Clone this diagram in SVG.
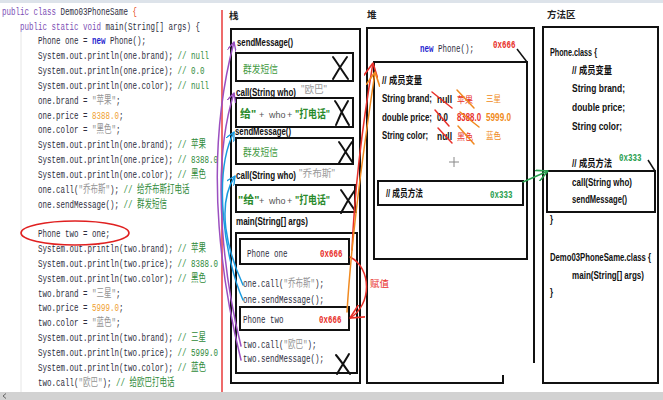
<svg xmlns="http://www.w3.org/2000/svg" width="663" height="400" viewBox="0 0 663 400">
<style>
.mono{font-family:"Liberation Mono","Noto Sans CJK SC",monospace;font-size:11px;fill:#2e2e3e}
.kw{fill:#7d4fb5}
.nw{fill:#1f1fd0;font-weight:bold}
.cm{fill:#2f8a3a}
.st{fill:#949494}
.nu{fill:#f0a030}
.lbl{font-family:"Liberation Sans","Noto Sans CJK SC",sans-serif;font-size:10.5px;font-weight:bold;fill:#111}
.ttl{font-family:"Noto Sans CJK SC",sans-serif;font-size:9.5px;font-weight:bold;fill:#222}
.cjk{font-family:"Liberation Sans","Noto Sans CJK SC",sans-serif}
.box{fill:none;stroke:#111;stroke-width:2}
.xm{fill:none;stroke:#111;stroke-width:2;stroke-linecap:round}
.red{fill:#e8302a}
.grn{fill:#2aa050}
</style>
<defs>
<marker id="ap" viewBox="0 0 10 10" refX="10" refY="5" markerWidth="9" markerHeight="9" markerUnits="userSpaceOnUse" orient="auto"><path d="M0,0 L10,5 L0,10" fill="none" stroke="#9b4fc0" stroke-width="1.5"/></marker>
<marker id="ab" viewBox="0 0 10 10" refX="10" refY="5" markerWidth="9" markerHeight="9" markerUnits="userSpaceOnUse" orient="auto"><path d="M0,0 L10,5 L0,10" fill="none" stroke="#1a9be0" stroke-width="1.5"/></marker>
<marker id="ar" viewBox="0 0 10 10" refX="10" refY="5" markerWidth="14" markerHeight="14" markerUnits="userSpaceOnUse" orient="auto"><path d="M0,0 L10,5 L0,10" fill="none" stroke="#e8302a" stroke-width="1.2"/></marker>
<marker id="ao" viewBox="0 0 10 10" refX="10" refY="5" markerWidth="14" markerHeight="14" markerUnits="userSpaceOnUse" orient="auto"><path d="M0,0 L10,5 L0,10" fill="none" stroke="#f08a20" stroke-width="1.2"/></marker>
<marker id="ag" viewBox="0 0 10 10" refX="10" refY="5" markerWidth="12" markerHeight="12" markerUnits="userSpaceOnUse" orient="auto"><path d="M0,0 L10,5 L0,10" fill="none" stroke="#2aa050" stroke-width="1.3"/></marker>
</defs>
<rect width="663" height="400" fill="#ffffff"/>
<rect x="0" y="0" width="663" height="3" fill="#dde3ea"/>

<!-- code panel -->
<g id="code">
<line x1="21" y1="32" x2="21" y2="392" stroke="#e6e6e6" stroke-width="1"/>
<g transform="scale(0.682,1)">
<text class="mono" x="2.9" y="14.8"><tspan class="kw">public class</tspan> Demo03PhoneSame <tspan fill="#e8502a">{</tspan></text>
<text class="mono" x="29.3" y="29.6"><tspan class="kw">public static void</tspan> main(String[] args) {</text>
<text class="mono" x="55.7" y="44.5">Phone one = <tspan class="nw">new</tspan> Phone();</text>
<text class="mono" x="55.7" y="59.3">System.out.println(one.brand); <tspan class="cm">// null</tspan></text>
<text class="mono" x="55.7" y="74.1">System.out.println(one.price); <tspan class="cm">// 0.0</tspan></text>
<text class="mono" x="55.7" y="89.0">System.out.println(one.color); <tspan class="cm">// null</tspan></text>
<text class="mono" x="55.7" y="103.8">one.brand = <tspan class="st">"苹果"</tspan>;</text>
<text class="mono" x="55.7" y="118.6">one.price = <tspan class="nu">8388.0</tspan>;</text>
<text class="mono" x="55.7" y="133.4">one.color = <tspan class="st">"黑色"</tspan>;</text>
<text class="mono" x="55.7" y="148.3">System.out.println(one.brand); <tspan class="cm">// 苹果</tspan></text>
<text class="mono" x="55.7" y="163.1">System.out.println(one.price); <tspan class="cm">// 8388.0</tspan></text>
<text class="mono" x="55.7" y="177.9">System.out.println(one.color); <tspan class="cm">// 黑色</tspan></text>
<text class="mono" x="55.7" y="192.8">one.call(<tspan class="st">"乔布斯"</tspan>); <tspan class="cm">// 给乔布斯打电话</tspan></text>
<text class="mono" x="55.7" y="207.6">one.sendMessage(); <tspan class="cm">// 群发短信</tspan></text>
<text class="mono" x="55.7" y="237.2">Phone two = one;</text>
<text class="mono" x="55.7" y="252.1">System.out.println(two.brand); <tspan class="cm">// 苹果</tspan></text>
<text class="mono" x="55.7" y="266.9">System.out.println(two.price); <tspan class="cm">// 8388.0</tspan></text>
<text class="mono" x="55.7" y="281.7">System.out.println(two.color); <tspan class="cm">// 黑色</tspan></text>
<text class="mono" x="55.7" y="296.6">two.brand = <tspan class="st">"三星"</tspan>;</text>
<text class="mono" x="55.7" y="311.4">two.price = <tspan class="nu">5999.0</tspan>;</text>
<text class="mono" x="55.7" y="326.2">two.color = <tspan class="st">"蓝色"</tspan>;</text>
<text class="mono" x="55.7" y="341.1">System.out.println(two.brand); <tspan class="cm">// 三星</tspan></text>
<text class="mono" x="55.7" y="355.9">System.out.println(two.price); <tspan class="cm">// 5999.0</tspan></text>
<text class="mono" x="55.7" y="370.7">System.out.println(two.color); <tspan class="cm">// 蓝色</tspan></text>
<text class="mono" x="55.7" y="385.6">two.call(<tspan class="st">"欧巴"</tspan>); <tspan class="cm">// 给欧巴打电话</tspan></text>
</g>
<ellipse cx="75" cy="233" rx="54" ry="12" fill="none" stroke="#e02020" stroke-width="1.6"/>
<line x1="222" y1="10" x2="222" y2="392" stroke="#e83a3a" stroke-width="1.5"/>
</g>

<!-- stack -->
<g id="stack">
<text class="ttl" x="229" y="19">栈</text>
<rect class="box" x="231" y="29" width="129" height="354"/>
<g transform="scale(0.74,1)">
<text class="lbl" x="320.3" y="46" textLength="75.7" lengthAdjust="spacingAndGlyphs">sendMessage()</text>
<text class="lbl" x="318.9" y="96" textLength="81.1" lengthAdjust="spacingAndGlyphs">call(String who)</text>
<text class="lbl" x="317.6" y="135" textLength="75.7" lengthAdjust="spacingAndGlyphs">sendMessage()</text>
<text class="lbl" x="318.9" y="179" textLength="81.1" lengthAdjust="spacingAndGlyphs">call(String who)</text>
<text class="lbl" x="318.9" y="225" textLength="97.3" lengthAdjust="spacingAndGlyphs">main(String[] args)</text>
</g>
<rect class="box" x="236" y="53" width="117" height="28"/>
<text class="cjk" x="243" y="73" font-size="10" fill="#3f9a3f" textLength="35" lengthAdjust="spacingAndGlyphs">群发短信</text>
<path class="xm" d="M333,57 C338,64 343,72 348,79 M347,57 C342,64 337,72 333,79"/>
<text class="cjk" x="301" y="93" font-size="10" fill="#9a9a9a" textLength="26" lengthAdjust="spacingAndGlyphs">"欧巴"</text>
<rect class="box" x="236" y="98" width="117" height="29"/>
<text class="cjk" x="240" y="118" font-size="11" font-weight="bold" fill="#2a8a2a">给"</text>
<text class="cjk" x="259" y="118" font-size="9" fill="#555">+</text>
<text class="cjk" x="269" y="118" font-size="9" fill="#555">who</text>
<text class="cjk" x="287" y="118" font-size="9" fill="#555">+</text>
<text class="cjk" x="295" y="118" font-size="11" font-weight="bold" fill="#2a8a2a" textLength="35" lengthAdjust="spacingAndGlyphs">"打电话"</text>
<path class="xm" d="M335,101 C340,108 344,117 349,125 M348,101 C343,109 339,117 336,125"/>
<rect class="box" x="236" y="138" width="117" height="26"/>
<text class="cjk" x="243" y="156" font-size="10" fill="#3f9a3f" textLength="35" lengthAdjust="spacingAndGlyphs">群发短信</text>
<path class="xm" d="M339,142 C344,149 348,156 353,163 M352,142 C347,149 343,156 339,163"/>
<text class="cjk" x="299" y="177" font-size="10" fill="#9a9a9a" textLength="36" lengthAdjust="spacingAndGlyphs">"乔布斯"</text>
<rect class="box" x="236" y="185" width="119" height="27"/>
<text class="cjk" x="238" y="204" font-size="11" font-weight="bold" fill="#2a8a2a">"给"</text>
<text class="cjk" x="259" y="204" font-size="9" fill="#555">+</text>
<text class="cjk" x="269" y="204" font-size="9" fill="#555">who</text>
<text class="cjk" x="287" y="204" font-size="9" fill="#555">+</text>
<text class="cjk" x="295" y="204" font-size="11" font-weight="bold" fill="#2a8a2a" textLength="35" lengthAdjust="spacingAndGlyphs">"打电话"</text>
<path class="xm" d="M341,190 C346,197 351,205 356,212 M355,190 C350,197 345,205 341,213"/>
<rect class="box" x="236" y="233" width="121" height="140"/>
<rect class="box" x="240" y="239" width="109" height="25"/>
<text class="mono" x="362.2" y="257" transform="scale(0.682,1)">Phone one</text>
<text class="mono red" x="469.2" y="257" font-weight="bold" transform="scale(0.682,1)">0x666</text>
<text class="mono" x="356.3" y="287" transform="scale(0.682,1)" fill="#2a2a5a">one.call(<tspan class="st">"乔布斯"</tspan>);</text>
<text class="mono" x="356.3" y="303" transform="scale(0.682,1)" fill="#2a2a5a">one.sendMessage();</text>
<rect class="box" x="240" y="307" width="109" height="23"/>
<text class="mono" x="356.3" y="323" transform="scale(0.682,1)">Phone two</text>
<text class="mono red" x="467.7" y="323" font-weight="bold" transform="scale(0.682,1)">0x666</text>
<text class="mono" x="356.3" y="348" transform="scale(0.682,1)" fill="#2a2a5a">two.call(<tspan class="st">"欧巴"</tspan>);</text>
<text class="mono" x="356.3" y="362" transform="scale(0.682,1)" fill="#2a2a5a">two.sendMessage();</text>
<path class="xm" d="M336,355 C341,361 345,367 350,374 M349,354 C345,361 341,367 337,374"/>
</g>

<!-- heap -->
<g id="heap">
<text class="ttl" x="367" y="18">堆</text>
<path class="box" d="M503,375 L503,383 L367,383 L367,28 L534,28 L534,363"/>
<text class="mono" x="615.8" y="52" transform="scale(0.682,1)"><tspan class="nw">new</tspan> Phone();</text>
<text class="mono red" x="722.9" y="48" font-weight="bold" transform="scale(0.682,1)">0x666</text>
<line x1="517" y1="49" x2="527" y2="62" stroke="#111" stroke-width="1.5"/>
<rect class="box" x="374" y="62" width="153" height="197"/>
<g transform="scale(0.74,1)">
<text class="lbl" x="516.2" y="84" textLength="54.1" lengthAdjust="spacingAndGlyphs">// 成员变量</text>
<text class="lbl" x="516.2" y="102" textLength="67.6" lengthAdjust="spacingAndGlyphs">String brand;</text>
<text class="lbl" x="516.2" y="121" textLength="67.6" lengthAdjust="spacingAndGlyphs">double price;</text>
<text class="lbl" x="516.2" y="139" textLength="62.2" lengthAdjust="spacingAndGlyphs">String color;</text>
<text class="lbl" x="590.5" y="103" textLength="20.3" lengthAdjust="spacingAndGlyphs">null</text>
<text class="lbl" x="590.5" y="121" textLength="14.9" lengthAdjust="spacingAndGlyphs">0.0</text>
<text class="lbl" x="590.5" y="140" textLength="20.3" lengthAdjust="spacingAndGlyphs">null</text>
<text class="lbl" x="521.6" y="197" textLength="50" lengthAdjust="spacingAndGlyphs">// 成员方法</text>
</g>
<text class="cjk" x="457" y="103" font-size="9.5" fill="#e8302a" textLength="16" lengthAdjust="spacingAndGlyphs">苹果</text>
<text class="cjk" x="457" y="121" font-size="10" font-weight="bold" fill="#e8302a" textLength="24" lengthAdjust="spacingAndGlyphs">8388.0</text>
<text class="cjk" x="457" y="140" font-size="9.5" fill="#e8302a" textLength="16" lengthAdjust="spacingAndGlyphs">黑色</text>
<text class="cjk" x="486" y="102" font-size="9.5" fill="#f08a20" textLength="15" lengthAdjust="spacingAndGlyphs">三星</text>
<text class="cjk" x="486" y="121" font-size="10" font-weight="bold" fill="#f08a20" textLength="25" lengthAdjust="spacingAndGlyphs">5999.0</text>
<text class="cjk" x="486" y="139" font-size="9.5" fill="#f08a20" textLength="15" lengthAdjust="spacingAndGlyphs">蓝色</text>
<g stroke-width="1.5" stroke-linecap="round">
<line x1="432" y1="92" x2="452" y2="108" stroke="#e8302a"/>
<line x1="435" y1="110" x2="449" y2="126" stroke="#e8302a"/>
<line x1="438" y1="128" x2="452" y2="143" stroke="#e8302a"/>
<line x1="457" y1="90" x2="474" y2="108" stroke="#f08a20"/>
<line x1="460" y1="112" x2="479" y2="127" stroke="#f08a20"/>
<line x1="458" y1="126" x2="474" y2="144" stroke="#f08a20"/>
</g>
<path d="M454,157 V167 M449,162 H459" stroke="#888" stroke-width="1"/>
<rect class="box" x="378" y="181" width="145" height="24"/>
<text class="mono grn" x="718.5" y="198" font-weight="bold" transform="scale(0.682,1)">0x333</text>
</g>

<!-- method area -->
<g id="method-area">
<text class="ttl" x="547" y="18">方法区</text>
<rect class="box" x="543" y="27" width="115" height="356"/>
<g transform="scale(0.74,1)">
<text class="lbl" x="743.2" y="56" textLength="63.5" lengthAdjust="spacingAndGlyphs">Phone.class {</text>
<text class="lbl" x="773" y="74" textLength="54.1" lengthAdjust="spacingAndGlyphs">// 成员变量</text>
<text class="lbl" x="773" y="92" textLength="71.6" lengthAdjust="spacingAndGlyphs">String brand;</text>
<text class="lbl" x="773" y="111" textLength="71.6" lengthAdjust="spacingAndGlyphs">double price;</text>
<text class="lbl" x="773" y="130" textLength="67.6" lengthAdjust="spacingAndGlyphs">String color;</text>
<text class="lbl" x="773" y="167" textLength="54.1" lengthAdjust="spacingAndGlyphs">// 成员方法</text>
<text class="lbl" x="773" y="186" textLength="81.1" lengthAdjust="spacingAndGlyphs">call(String who)</text>
<text class="lbl" x="773" y="203" textLength="74.3" lengthAdjust="spacingAndGlyphs">sendMessage()</text>
<text class="lbl" x="743.2" y="223">}</text>
<text class="lbl" x="743.2" y="261" textLength="136.5" lengthAdjust="spacingAndGlyphs">Demo03PhoneSame.class {</text>
<text class="lbl" x="773" y="279" textLength="97.3" lengthAdjust="spacingAndGlyphs">main(String[] args)</text>
<text class="lbl" x="743.2" y="296">}</text>
</g>
<text class="mono grn" x="907.6" y="161" font-weight="bold" transform="scale(0.682,1)">0x333</text>
<line x1="648" y1="160" x2="655" y2="171" stroke="#111" stroke-width="1.5"/>
<rect class="box" x="547" y="171" width="108" height="41"/>
</g>

<!-- connectors -->
<g id="connectors" fill="none" stroke-linecap="round">
<path d="M241,360 C226,300 200,170 234,42" stroke="#9b4fc0" stroke-width="1.5" marker-end="url(#ap)"/>
<path d="M241,346 C227,290 208,175 234,93" stroke="#9b4fc0" stroke-width="1.5" marker-end="url(#ap)"/>
<path d="M243,300 C225,260 212,175 234,132" stroke="#1a9be0" stroke-width="1.5" marker-end="url(#ab)"/>
<path d="M243,285 C227,250 216,205 235,176" stroke="#1a9be0" stroke-width="1.5" marker-end="url(#ab)"/>
<path d="M352,250 C355,180 365,110 373,63" stroke="#e8302a" stroke-width="1.5" marker-end="url(#ar)"/>
<path d="M350,257 C372,268 372,305 350,318" stroke="#e8302a" stroke-width="1.5" marker-end="url(#ar)"/>
<path d="M347,312 C352,230 365,140 375,72" stroke="#f08a20" stroke-width="1.5" marker-end="url(#ao)"/>
<path d="M523,182 L548,171" stroke="#2aa050" stroke-width="1.5" marker-end="url(#ag)"/>
</g>
<text class="cjk" x="370" y="287" font-size="9.5" fill="#e8302a">赋值</text>

<rect x="0" y="392" width="663" height="8" fill="#d2d2d2"/>
<path d="M6,393.5 L3,396 L6,398.5" fill="none" stroke="#666" stroke-width="1"/>
</svg>
